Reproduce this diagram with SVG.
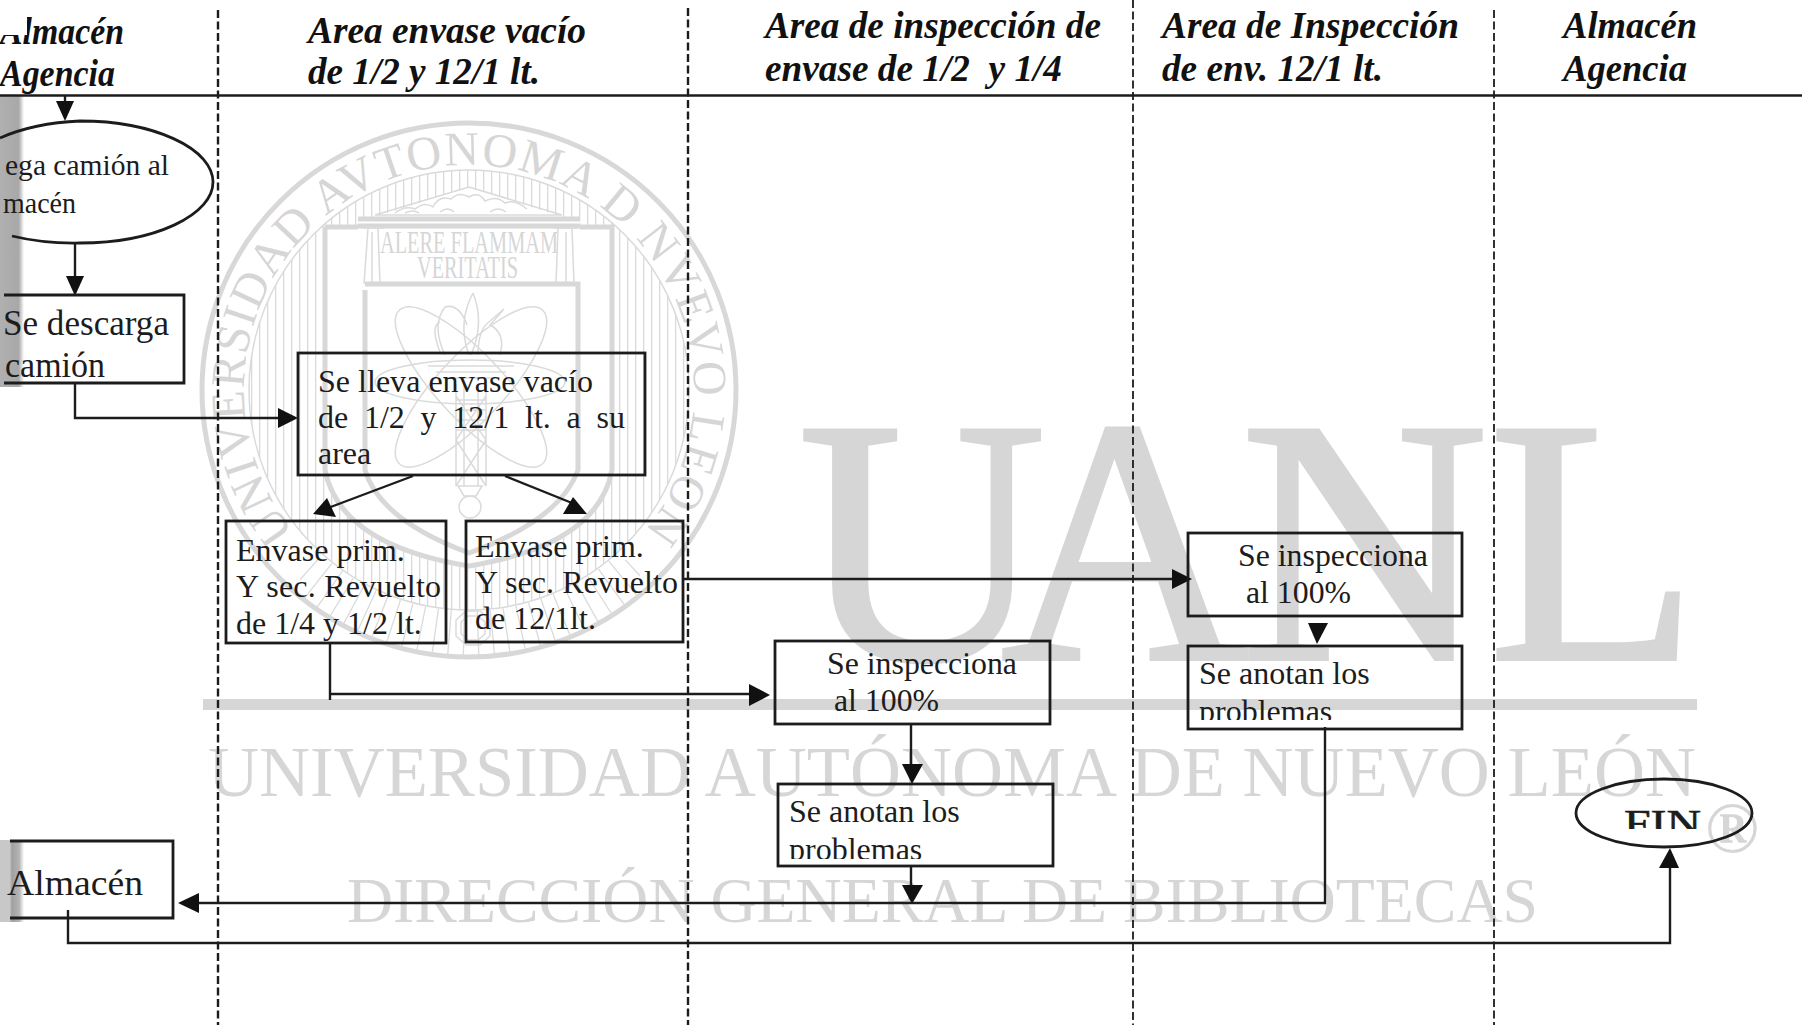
<svg xmlns="http://www.w3.org/2000/svg" width="1802" height="1025" viewBox="0 0 1802 1025">
<style>
text{font-family:"Liberation Serif","Times New Roman",serif;fill:#1c1c1c}
.h{font-size:38px;font-weight:bold;font-style:italic;fill:#111}
.t{font-size:32px}
.box{fill:none;stroke:#1c1c1c;stroke-width:2.8}
.wm{fill:#d6d6d6}
.ws{fill:none;stroke:#d8d8d8;stroke-width:5}
.wt{fill:none;stroke:#dadada;stroke-width:1.5}
.lane{fill:none;stroke:#1c1c1c;stroke-dasharray:8 3.5}
.c{fill:none;stroke:#1c1c1c;stroke-width:2.4}
.a{fill:#111}
text.wmt{fill:#d6d6d6;font-family:"Liberation Serif",serif}
</style>
<defs>
<linearGradient id="band1" x1="0" x2="1" y1="0" y2="0"><stop offset="0" stop-color="#b0b0b0"/><stop offset="0.78" stop-color="#a8a8a8"/><stop offset="1" stop-color="#ffffff"/></linearGradient>
<linearGradient id="band2" x1="0" x2="1" y1="0" y2="0"><stop offset="0" stop-color="#c8c8c8"/><stop offset="0.4" stop-color="#c8c8c8"/><stop offset="0.5" stop-color="#a0a0a0"/><stop offset="0.8" stop-color="#b4b4b4"/><stop offset="1" stop-color="#ffffff"/></linearGradient>
<pattern id="hatch" width="8" height="8" patternUnits="userSpaceOnUse"><rect x="3" width="1.3" height="8" fill="#dadada"/></pattern>
<clipPath id="fan"><path d="M300,560H640V670H300Z"/></clipPath>
<clipPath id="cp1"><rect x="778" y="830" width="275" height="29"/></clipPath>
<clipPath id="cp2"><rect x="1188" y="695" width="274" height="25"/></clipPath>
<clipPath id="cpf"><rect x="1600" y="810" width="130" height="19"/></clipPath>
<path id="ringp" d="M297,535A225,225 0 1 1 641,535"/>
</defs>
<rect width="1802" height="1025" fill="#fff"/>

<g id="watermark">
<ellipse class="ws" cx="469" cy="390" rx="267" ry="267"/>
<ellipse class="wt" cx="469" cy="390" rx="220" ry="220"/>
<path fill="url(#hatch)" fill-rule="evenodd" d="M249,390a220,220 0 1 0 440,0a220,220 0 1 0 -440,0ZM325,227V470Q340,545 469,566Q598,545 612,470V227H580V217H358V227Z"/>
<path fill="#fff" d="M358,227V217H375L469,187L562,217H580V227Z"/>
<ellipse clip-path="url(#fan)" cx="469" cy="390" rx="243" ry="243" fill="none" stroke="#dadada" stroke-width="44" stroke-dasharray="1.3 13"/>
<path class="ws" d="M325,227V470Q340,545 469,566Q598,545 612,470V227H580M358,227H325"/>
<path class="ws" d="M365,290V470Q380,520 469,553Q560,520 578,470V284H365"/>
<path class="wt" stroke-width="2" d="M375,215L469,187L562,215Z"/>
<path class="ws" stroke-width="2.5" d="M358,219H580M358,226H580"/>
<path class="wt" d="M368,228L364,284M378,228L380,284M362,228H384M558,228L556,284M572,228L574,284M553,228H578M372,232V282M566,232V282"/>
<path class="wt" d="M395,213q10,-8 20,-4q10,-8 18,-2q6,-12 18,-8q8,-8 18,-2q10,-6 16,4q12,-6 20,2q10,-4 22,6M405,213q8,-4 14,0M440,212q8,-6 14,0M490,212q8,-6 16,0"/>
<text class="wmt" font-size="31" x="380" y="253" textLength="178" lengthAdjust="spacingAndGlyphs">ALERE FLAMMAM</text>
<text class="wmt" font-size="31" x="417" y="278" textLength="101" lengthAdjust="spacingAndGlyphs">VERITATIS</text>
<g class="wt" stroke-width="2">
<ellipse cx="471" cy="387" rx="105" ry="33" transform="rotate(47 471 387)"/>
<ellipse cx="471" cy="387" rx="105" ry="33" transform="rotate(-47 471 387)"/>
<ellipse cx="470" cy="382" rx="95" ry="22"/>
<path d="M473,293q-16,30 -4,62M473,293q12,30 -2,62M445,355q-14,-30 0,-48q14,-4 22,18M440,352q-10,-26 0,-30M500,355q6,-22 -10,-30l14,-16l-14,12q-12,8 -12,34"/>
<path d="M428,366H514M436,372H506M450,378H492M456,384V486M486,384V486M464,384V486M478,384V486M456,396L486,440L456,486M486,396L456,440L486,486M456,400H486M456,410H486M456,420H486M456,430H486"/>
<circle cx="470" cy="507" r="11"/><path d="M458,486H482L476,496H464Z"/>
<path d="M456,620l10,-9h14l10,9v16l-10,9h-14l-10,-9ZM461,622l7,-6h10l7,6v12l-7,6h-10l-7,-6Z"/>
</g>
<text class="wmt" font-size="48" letter-spacing="1.2" text-anchor="middle"><textPath href="#ringp" startOffset="50%">UNIVERSIDAD AVTONOMA D NVEVO LEON</textPath></text>
<text class="wmt" font-size="349" transform="translate(798,659) scale(.985,1)" x="0 206 449 701" y="0" stroke="#d6d6d6" stroke-width="4">UANL</text>
<rect class="wm" x="203" y="699" width="1494" height="11"/>
<text class="wmt" font-size="71" x="208" y="796" textLength="1488" lengthAdjust="spacingAndGlyphs">UNIVERSIDAD AUTÓNOMA DE NUEVO LEÓN</text>
<text class="wmt" font-size="64" x="347" y="922" textLength="1191" lengthAdjust="spacingAndGlyphs">DIRECCIÓN GENERAL DE BIBLIOTECAS</text>
<text class="wmt" font-size="72" font-weight="bold" x="1705" y="852">®</text>
</g>

<g id="scan-bands">
<rect x="0" y="95" width="24" height="292" fill="url(#band1)"/>
<rect x="0" y="840" width="24" height="82" fill="url(#band2)"/>
</g>

<g id="lanes">
<path class="lane" stroke-width="2.4" d="M218,10V1025M688,8V1025"/>
<path class="lane" stroke-width="1.8" d="M1133,0V1025M1494,10V1025"/>
<path fill="none" stroke="#1c1c1c" stroke-width="2.4" d="M0,95.5H1802"/>
</g>

<g id="headers">
<g id="h-almacen1"><text class="h" x="0" y="44" textLength="124" lengthAdjust="spacingAndGlyphs">Almacén</text><rect x="0" y="0" width="27" height="35" fill="#fff"/><text class="h" x="0" y="86" textLength="115" lengthAdjust="spacingAndGlyphs">Agencia</text></g>
<g id="h-envase"><text class="h" x="308" y="43" textLength="278" lengthAdjust="spacingAndGlyphs">Area envase vacío</text><text class="h" x="308" y="84" textLength="232" lengthAdjust="spacingAndGlyphs">de 1/2 y 12/1 lt.</text></g>
<g id="h-insp1"><text class="h" x="765" y="38" textLength="336" lengthAdjust="spacingAndGlyphs">Area de inspección de</text><text class="h" x="765" y="81" textLength="297" lengthAdjust="spacingAndGlyphs" xml:space="preserve">envase de 1/2  y 1/4</text></g>
<g id="h-insp2"><text class="h" x="1162" y="38" textLength="297" lengthAdjust="spacingAndGlyphs">Area de Inspección</text><text class="h" x="1162" y="81" textLength="221" lengthAdjust="spacingAndGlyphs">de env. 12/1 lt.</text></g>
<g id="h-almacen2"><text class="h" x="1563" y="38" textLength="134" lengthAdjust="spacingAndGlyphs">Almacén</text><text class="h" x="1563" y="81" textLength="124" lengthAdjust="spacingAndGlyphs">Agencia</text></g>
</g>

<g id="connectors">
<path class="c" d="M65,96V104"/><path class="a" d="M56,101H74L65,121Z"/>
<path class="c" d="M75,243V280"/><path class="a" d="M66,276H84L75,296Z"/>
<path class="c" d="M75,383V418H282"/><path class="a" d="M278,408V428L298,418Z"/>
<path class="c" d="M413,476L328,508"/><path class="a" d="M313,514L336,517L327,498Z"/>
<path class="c" d="M505,476L572,503"/><path class="a" d="M573,497L563,514H587Z"/>
<path class="c" d="M683,579H1176"/><path class="a" d="M1172,569V589L1192,579Z"/>
<path class="c" d="M330,643V700M330,694H752"/><path class="a" d="M749,684V706L770,695Z"/>
<path class="c" d="M911,724V768"/><path class="a" d="M902,764H923L912,784Z"/>
<path class="c" d="M911,866V888"/><path class="a" d="M902,885H923L912,904Z"/>
<path class="a" d="M1308,623H1328L1317,644Z"/>
<path class="c" d="M1325,727V903H196"/><path class="a" d="M178,903L199,893V913Z"/>
<path class="c" d="M68,910V943H1670V864"/><path class="a" d="M1659,868H1679L1670,848Z"/>
</g>

<g id="n-llega"><path class="box" d="M12,236A133,61 0 0 0 80,243A133,61 0 0 0 213,182A133,61 0 0 0 80,121A133,61 0 0 0 0,138"/><text style="font-size:29.5px" x="5" y="175" textLength="164" lengthAdjust="spacingAndGlyphs">ega camión al</text><text style="font-size:29.5px" x="3" y="213" textLength="73" lengthAdjust="spacingAndGlyphs">macén</text></g>
<g id="n-descarga"><path class="box" d="M4,295H184V383H4"/><text style="font-size:35px" x="3" y="335" textLength="166" lengthAdjust="spacingAndGlyphs">Se descarga</text><text style="font-size:35px" x="5" y="377" textLength="100" lengthAdjust="spacingAndGlyphs">camión</text></g>
<g id="n-lleva"><rect class="box" x="298" y="353" width="347" height="122"/><text class="t" x="318" y="392" textLength="275">Se lleva envase vacío</text><text class="t" x="318" y="428" word-spacing="7.75">de 1/2 y 12/1 lt. a su</text><text class="t" x="318" y="464">area</text></g>
<g id="n-env1"><rect class="box" x="226" y="521" width="220" height="122"/><text class="t" x="236" y="561">Envase prim.</text><text class="t" x="236" y="597" textLength="205">Y sec. Revuelto</text><text class="t" x="236" y="634">de 1/4 y 1/2 lt.</text></g>
<g id="n-env2"><rect class="box" x="466" y="521" width="217" height="121"/><text class="t" x="475" y="557">Envase prim.</text><text class="t" x="475" y="593" textLength="203">Y sec. Revuelto</text><text class="t" x="475" y="629">de 12/1lt.</text></g>
<g id="n-insp1"><rect class="box" x="775" y="641" width="275" height="83"/><text class="t" x="827" y="674" textLength="190" lengthAdjust="spacingAndGlyphs">Se inspecciona</text><text class="t" x="834" y="711" textLength="105" lengthAdjust="spacingAndGlyphs">al 100%</text></g>
<g id="n-anot1"><rect class="box" x="778" y="784" width="275" height="82"/><text class="t" x="789" y="822">Se anotan los</text><text class="t" x="789" y="860" clip-path="url(#cp1)">problemas</text></g>
<g id="n-insp2"><rect class="box" x="1188" y="533" width="274" height="83"/><text class="t" x="1238" y="566" textLength="190" lengthAdjust="spacingAndGlyphs">Se inspecciona</text><text class="t" x="1246" y="603" textLength="105" lengthAdjust="spacingAndGlyphs">al 100%</text></g>
<g id="n-anot2"><rect class="box" x="1188" y="646" width="274" height="83"/><text class="t" x="1199" y="684">Se anotan los</text><text class="t" x="1199" y="722" clip-path="url(#cp2)">problemas</text></g>
<g id="n-fin"><ellipse class="box" cx="1664" cy="813" rx="88" ry="34"/><text x="1624" y="836" font-size="38" stroke="#1c1c1c" stroke-width="0.6" textLength="77" lengthAdjust="spacingAndGlyphs" clip-path="url(#cpf)">FIN</text></g>
<g id="n-almacen"><path class="box" d="M10,841H173V918H10"/><text x="7" y="895" font-size="36" textLength="136" lengthAdjust="spacingAndGlyphs">Almacén</text></g>
</svg>
